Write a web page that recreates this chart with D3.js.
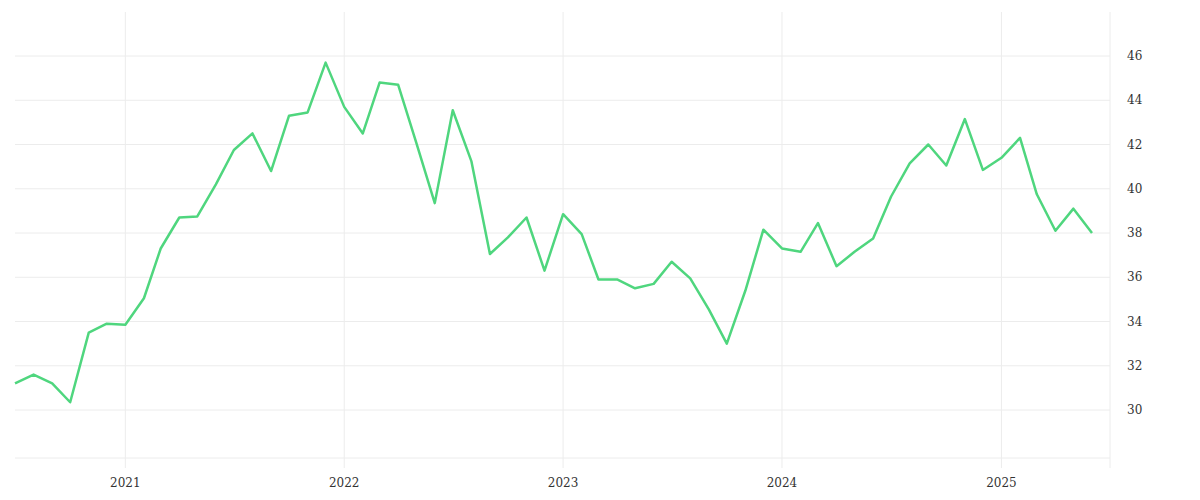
<!DOCTYPE html><html><head><meta charset="utf-8"><script src="https://cdn.jsdelivr.net/npm/d3@7"></script>
<style>body{margin:0;background:#fff}text{font-family:"DejaVu Serif",serif;font-size:12px;fill:#333}</style></head><body><svg id="c" width="1200" height="500"></svg><script>
const startMonth = "2020-07";
const values = [31.2,31.6,31.2,30.35,33.5,33.9,33.85,35.05,37.3,38.7,38.75,40.2,41.75,42.5,40.8,43.3,43.45,45.7,43.7,42.5,44.8,44.7,42.1,39.35,43.55,41.25,37.05,37.8,38.7,36.3,38.85,37.95,35.9,35.9,35.5,35.7,36.7,35.95,34.55,33.0,35.4,38.15,37.3,37.15,38.45,36.5,37.15,37.75,39.65,41.15,42.0,41.05,43.15,40.85,41.4,42.3,39.75,38.1,39.1,38.0];
const yTicks = [30,32,34,36,38,40,42,44,46];
const xTickYears = [2021,2022,2023,2024,2025];
const dates = values.map((v,i)=>new Date(2020,6+i,1));
const svg = d3.select("#c");
const x = d3.scaleTime().domain([new Date(2020,6,1),new Date(2025,5,1)]).range([15,1092]);
const y = d3.scaleLinear().domain([30,46]).range([410,56]);
const g = svg.append("g");
g.selectAll(".hg").data(yTicks).enter().append("line").attr("x1",15).attr("x2",1110).attr("y1",d=>y(d)).attr("y2",d=>y(d)).attr("stroke","#ececec");
g.append("line").attr("x1",15).attr("x2",1110).attr("y1",458).attr("y2",458).attr("stroke","#ececec");
g.selectAll(".vg").data(xTickYears).enter().append("line").attr("x1",d=>x(new Date(d,0,1))).attr("x2",d=>x(new Date(d,0,1))).attr("y1",12).attr("y2",468).attr("stroke","#ececec");
g.append("line").attr("x1",1110).attr("x2",1110).attr("y1",12).attr("y2",468).attr("stroke","#ececec");
g.selectAll(".yl").data(yTicks).enter().append("text").attr("x",1127).attr("y",d=>y(d)+4).text(d=>d);
g.selectAll(".xl").data(xTickYears).enter().append("text").attr("x",d=>x(new Date(d,0,1))).attr("y",487).attr("text-anchor","middle").text(d=>d);
svg.append("path").datum(values).attr("fill","none").attr("stroke","#4fd67e").attr("stroke-width",2.5).attr("stroke-linejoin","round")
 .attr("d",d3.line().x((d,i)=>x(dates[i])).y(d=>y(d)));
</script></body></html>
